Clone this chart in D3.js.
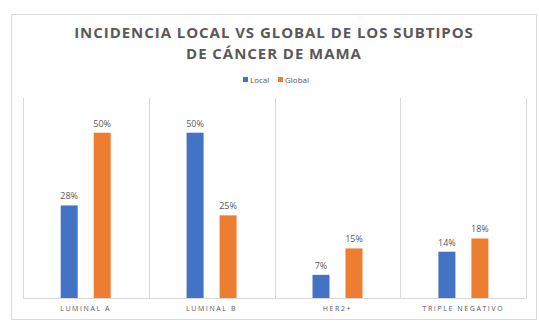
<!DOCTYPE html>
<html>
<head>
<meta charset="utf-8">
<script src="https://cdn.jsdelivr.net/npm/d3@7"></script>
<style>
  body { margin: 0; background: #fff; }
  svg { display: block; font-family: "Open Sans", "Noto Sans", sans-serif; }
</style>
</head>
<body>
<div id="chart"></div>
<script>
// data
var categories = ["LUMINAL A", "LUMINAL B", "HER2+", "TRIPLE NEGATIVO"];
var series = ["Local", "Global"];
var localValues = [28, 50, 7, 14];
var globalValues = [50, 25, 15, 18];
var colors = ["#4472C4", "#ED7D31"];
var titleLines = ["INCIDENCIA LOCAL VS GLOBAL DE LOS SUBTIPOS", "DE CÁNCER DE MAMA"];

var width = 539, height = 325;

var svg = d3.select("#chart").append("svg")
    .attr("width", width)
    .attr("height", height);

// chart frame
svg.append("rect")
    .attr("x", 11.5).attr("y", 14.5)
    .attr("width", 525).attr("height", 305)
    .attr("fill", "#fff")
    .attr("stroke", "#d9d9d9");

// scales
var x = d3.scaleBand()
    .domain(categories)
    .range([22.7, 526.3])
    .padding(0);

var xInner = d3.scaleBand()
    .domain(series)
    .range([38, 88])
    .paddingInner(0.485);

var y = d3.scaleLinear()
    .domain([0, 60.5])
    .range([298, 98]);

// vertical gridlines between categories
var edges = categories.map(function(c) { return x(c); }).concat([x.range()[1]]);
svg.selectAll(".grid")
    .data(edges)
    .enter().append("line")
    .attr("x1", function(d) { return Math.round(d) + 0.5; })
    .attr("x2", function(d) { return Math.round(d) + 0.5; })
    .attr("y1", y(60.5))
    .attr("y2", y(0))
    .attr("stroke", "#d9d9d9");

// baseline
svg.append("line")
    .attr("x1", x.range()[0]).attr("x2", x.range()[1])
    .attr("y1", y(0) + 0.5).attr("y2", y(0) + 0.5)
    .attr("stroke", "#d9d9d9");

// bars
var rows = categories.map(function(c, i) {
  return { cat: c, vals: [
    { s: "Local", v: localValues[i], color: colors[0] },
    { s: "Global", v: globalValues[i], color: colors[1] }
  ]};
});

var groups = svg.selectAll(".group")
    .data(rows)
    .enter().append("g")
    .attr("transform", function(d) { return "translate(" + x(d.cat) + ",0)"; });

groups.selectAll("rect")
    .data(function(d) { return d.vals; })
    .enter().append("rect")
    .attr("x", function(d) { return xInner(d.s); })
    .attr("width", xInner.bandwidth())
    .attr("y", function(d) { return y(d.v); })
    .attr("height", function(d) { return y(0) - y(d.v); })
    .attr("fill", function(d) { return d.color; });

// value labels
groups.selectAll(".lbl")
    .data(function(d) { return d.vals; })
    .enter().append("text")
    .attr("x", function(d) { return xInner(d.s) + xInner.bandwidth() / 2; })
    .attr("y", function(d) { return y(d.v) - 6; })
    .attr("text-anchor", "middle")
    .attr("font-size", 9)
    .attr("fill", "#595959")
    .text(function(d) { return d.v + "%"; });

// category labels
svg.selectAll(".cat")
    .data(categories)
    .enter().append("text")
    .attr("x", function(d) { return x(d) + x.bandwidth() / 2; })
    .attr("y", 311)
    .attr("text-anchor", "middle")
    .attr("font-size", 7)
    .attr("letter-spacing", 1.6)
    .attr("fill", "#595959")
    .text(function(d) { return d; });

// title
svg.selectAll(".title")
    .data(titleLines)
    .enter().append("text")
    .attr("x", 274)
    .attr("y", function(d, i) { return 38 + i * 20.5; })
    .attr("text-anchor", "middle")
    .attr("font-size", 15)
    .attr("font-weight", "bold")
    .attr("letter-spacing", 0.95)
    .attr("fill", "#595959")
    .text(function(d) { return d; });

// legend
var legend = svg.append("g").attr("transform", "translate(243,80)");
var legendX = [0, 35];
series.forEach(function(s, i) {
  legend.append("rect")
      .attr("x", legendX[i]).attr("y", -3)
      .attr("width", 5).attr("height", 5)
      .attr("fill", colors[i]);
  legend.append("text")
      .attr("x", legendX[i] + 7).attr("y", 2.5)
      .attr("font-size", 8)
      .attr("fill", "#595959")
      .text(s);
});
</script>
</body>
</html>
